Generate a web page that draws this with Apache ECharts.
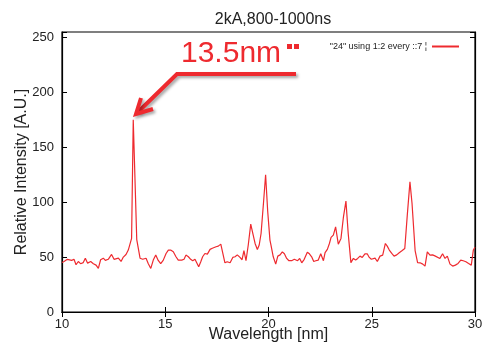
<!DOCTYPE html>
<html>
<head>
<meta charset="utf-8">
<script src="https://cdn.jsdelivr.net/npm/echarts@6/dist/echarts.min.js"></script>
<style>
  html, body { margin: 0; padding: 0; background: #fff; }
  #chart { width: 486px; height: 347px; }
</style>
</head>
<body>
<div id="chart"></div>
<script>
// wavelength [nm] and relative intensity
var wavelength = [
  10.0, 10.1, 10.26, 10.47, 10.58, 10.68, 10.79, 10.9, 11.03, 11.13,
  11.24, 11.39, 11.52, 11.65, 11.76, 11.87, 12.0, 12.1, 12.24, 12.32,
  12.4, 12.52, 12.61, 12.73, 12.86, 12.97, 13.1, 13.21, 13.29, 13.37,
  13.45, 13.62, 13.78, 13.91, 14.07, 14.18, 14.3, 14.42, 14.54, 14.66,
  14.78, 14.9, 15.04, 15.15, 15.26, 15.39, 15.52, 15.63, 15.8, 15.91,
  16.0, 16.12, 16.23, 16.33, 16.44, 16.52, 16.62, 16.72, 16.81, 16.92,
  17.04, 17.17, 17.28, 17.36, 17.46, 17.57, 17.69, 17.78, 17.89, 18.0,
  18.14, 18.27, 18.38, 18.49, 18.62, 18.72, 18.81, 18.91, 19.02, 19.14,
  19.24, 19.35, 19.46, 19.55, 19.64, 19.76, 19.86, 19.96, 20.07, 20.12,
  20.23, 20.35, 20.45, 20.56, 20.67, 20.77, 20.88, 20.99, 21.12, 21.25,
  21.32, 21.41, 21.51, 21.61, 21.73, 21.88, 21.98, 22.09, 22.19, 22.29,
  22.41, 22.53, 22.66, 22.74, 22.85, 22.95, 23.03, 23.14, 23.25, 23.38,
  23.51, 23.63, 23.75, 23.86, 23.99, 24.11, 24.22, 24.32, 24.43, 24.54,
  24.67, 24.78, 24.88, 24.98, 25.05, 25.16, 25.27, 25.4, 25.53, 25.66,
  25.75, 25.85, 25.97, 26.08, 26.21, 26.33, 26.46, 26.6, 26.72, 26.85,
  26.95, 27.1, 27.22, 27.34, 27.47, 27.58, 27.69, 27.82, 27.95, 28.08,
  28.17, 28.3, 28.43, 28.55, 28.66, 28.79, 28.92, 29.05, 29.18, 29.31,
  29.43, 29.56, 29.69, 29.82, 29.92, 30.0
];
var intensity = [
  45, 46, 48, 47, 48, 43, 46, 44, 45, 49,
  44.5, 46, 44, 42.7, 39.7, 47.6, 49, 47, 48, 47.6,
  52.4, 48, 47.6, 49, 46, 50, 52.4, 56.4, 57.3, 67,
  175, 66, 49, 48, 49, 44, 39.7, 47.3, 52, 47,
  44, 47, 53.3, 56.4, 56.4, 54.8, 50.3, 47.3, 47.3, 48,
  51.8, 50.3, 48, 46.7, 48, 47.3, 41.2, 45.8, 50.3, 53.3,
  52.7, 57, 58, 57, 59.4, 60, 61.8, 61.8, 44.8, 45.8,
  44.8, 49.7, 50.3, 52, 49.7, 47.6, 55.8, 46.7, 61, 80,
  71.5, 62.4, 57, 61, 71.5, 100, 125, 92, 65.5, 61,
  50.3, 43.6, 50.9, 52, 54.8, 53, 48.8, 46.7, 46.7, 48,
  49.7, 46.7, 48.8, 44.8, 48, 54.5, 53, 50.3, 46, 46.7,
  47.3, 53, 46.7, 54, 57, 62.4, 67.9, 70, 77.6, 61.8,
  67, 86.7, 101, 71.5, 45, 48.8, 47.3, 48.8, 50.9, 49.7,
  53, 53, 49.7, 48, 47, 49, 46, 50.9, 51.8, 62.4,
  60, 56.4, 53.3, 50.9, 52, 54, 55.8, 57.9, 88, 118.5,
  99, 56, 45, 44.8, 43.6, 41.8, 54.8, 51.8, 52, 50.9,
  52, 48.8, 53, 48.8, 50.9, 43.6, 41.8, 42.7, 44.2, 47.3,
  46.7, 45.8, 44.2, 42.7, 56.4, 59
];
var xTicks = [10, 15, 20, 25, 30];
var yTicks = [0, 50, 100, 150, 200, 250];

var seriesData = wavelength.map(function (w, i) { return [w, intensity[i]]; });

var red = '#ee2a2f';
var font = 'Liberation Sans';

var chart = echarts.init(document.getElementById('chart'));

var shadow = {
  shadowBlur: 3,
  shadowColor: 'rgba(0,0,0,0.35)',
  shadowOffsetX: 2,
  shadowOffsetY: 2
};

chart.setOption({
  animation: false,
  textStyle: { fontFamily: font },
  title: {
    text: '2kA,800-1000ns',
    left: 268,
    textAlign: 'center',
    top: 7,
    textStyle: { fontSize: 16, fontWeight: 'normal', color: '#222', fontFamily: font }
  },
  legend: {
    right: 21,
    top: 37,
    align: 'right',
    itemWidth: 27,
    itemHeight: 8,
    itemStyle: { opacity: 0 },
    textStyle: { fontSize: 9, color: '#222', fontFamily: font },
    data: ['"24" using 1:2 every ::7 ¦']
  },
  grid: {
    left: 62, right: 11, top: 32, bottom: 35,
    outerBoundsMode: 'none',
    show: true, borderColor: '#000', borderWidth: 1.2
  },
  xAxis: [{
    type: 'value',
    min: xTicks[0], max: xTicks[xTicks.length - 1], interval: 5,
    name: 'Wavelength [nm]',
    nameLocation: 'middle',
    nameGap: 15,
    nameMoveOverlap: false,
    nameTextStyle: { fontSize: 16, color: '#222', fontFamily: font },
    axisLine: { lineStyle: { color: '#000', width: 1.2 } },
    axisTick: { inside: true, length: 5, lineStyle: { color: '#000' } },
    axisLabel: { fontSize: 13, color: '#222', margin: 6 },
    splitLine: { show: false }
  }, {
    type: 'value', position: 'top',
    min: xTicks[0], max: xTicks[xTicks.length - 1], interval: 5,
    axisLine: { show: true, lineStyle: { color: '#000', width: 1.2 } },
    axisTick: { inside: true, length: 5, lineStyle: { color: '#000' } },
    axisLabel: { show: false },
    splitLine: { show: false }
  }],
  yAxis: [{
    type: 'value',
    min: 0, max: 255, interval: 50,
    name: 'Relative Intensity [A.U.]',
    nameLocation: 'middle',
    nameGap: 32,
    nameMoveOverlap: false,
    nameTextStyle: { fontSize: 16, color: '#222', fontFamily: font },
    axisLine: { show: true, lineStyle: { color: '#000', width: 1.2 } },
    axisTick: { inside: true, length: 5, lineStyle: { color: '#000' } },
    axisLabel: {
      fontSize: 13, color: '#222', margin: 8,
      formatter: function (v) { return yTicks.indexOf(v) >= 0 ? String(v) : ''; }
    },
    splitLine: { show: false }
  }, {
    type: 'value', position: 'right',
    min: 0, max: 255, interval: 50,
    axisLine: { show: true, lineStyle: { color: '#000', width: 1.2 } },
    axisTick: { inside: true, length: 5, lineStyle: { color: '#000' } },
    axisLabel: { show: false },
    splitLine: { show: false }
  }],
  series: [{
    name: '"24" using 1:2 every ::7 ¦',
    type: 'line',
    data: seriesData,
    symbol: 'none',
    lineStyle: { color: red, width: 1.2 },
    itemStyle: { color: red }
  }],
  graphic: [
    {
      type: 'text',
      left: 181, top: 39,
      style: Object.assign({
        text: '13.5nm',
        fill: red,
        font: '30px "Liberation Sans"'
      }, shadow)
    },
    { type: 'rect', shape: { x: 287, y: 44, width: 5, height: 5 }, style: { fill: red } },
    { type: 'rect', shape: { x: 294, y: 44, width: 5, height: 5 }, style: { fill: red } },
    {
      type: 'polyline',
      shape: { points: [[296, 74], [177, 74], [138, 112]] },
      style: Object.assign({ stroke: red, lineWidth: 4, fill: null, lineJoin: 'miter' }, shadow)
    },
    {
      type: 'polyline',
      shape: { points: [[141, 98], [136, 114], [153, 109]] },
      style: Object.assign({ stroke: red, lineWidth: 4, fill: null, lineJoin: 'miter' }, shadow)
    }
  ]
});
</script>
</body>
</html>
